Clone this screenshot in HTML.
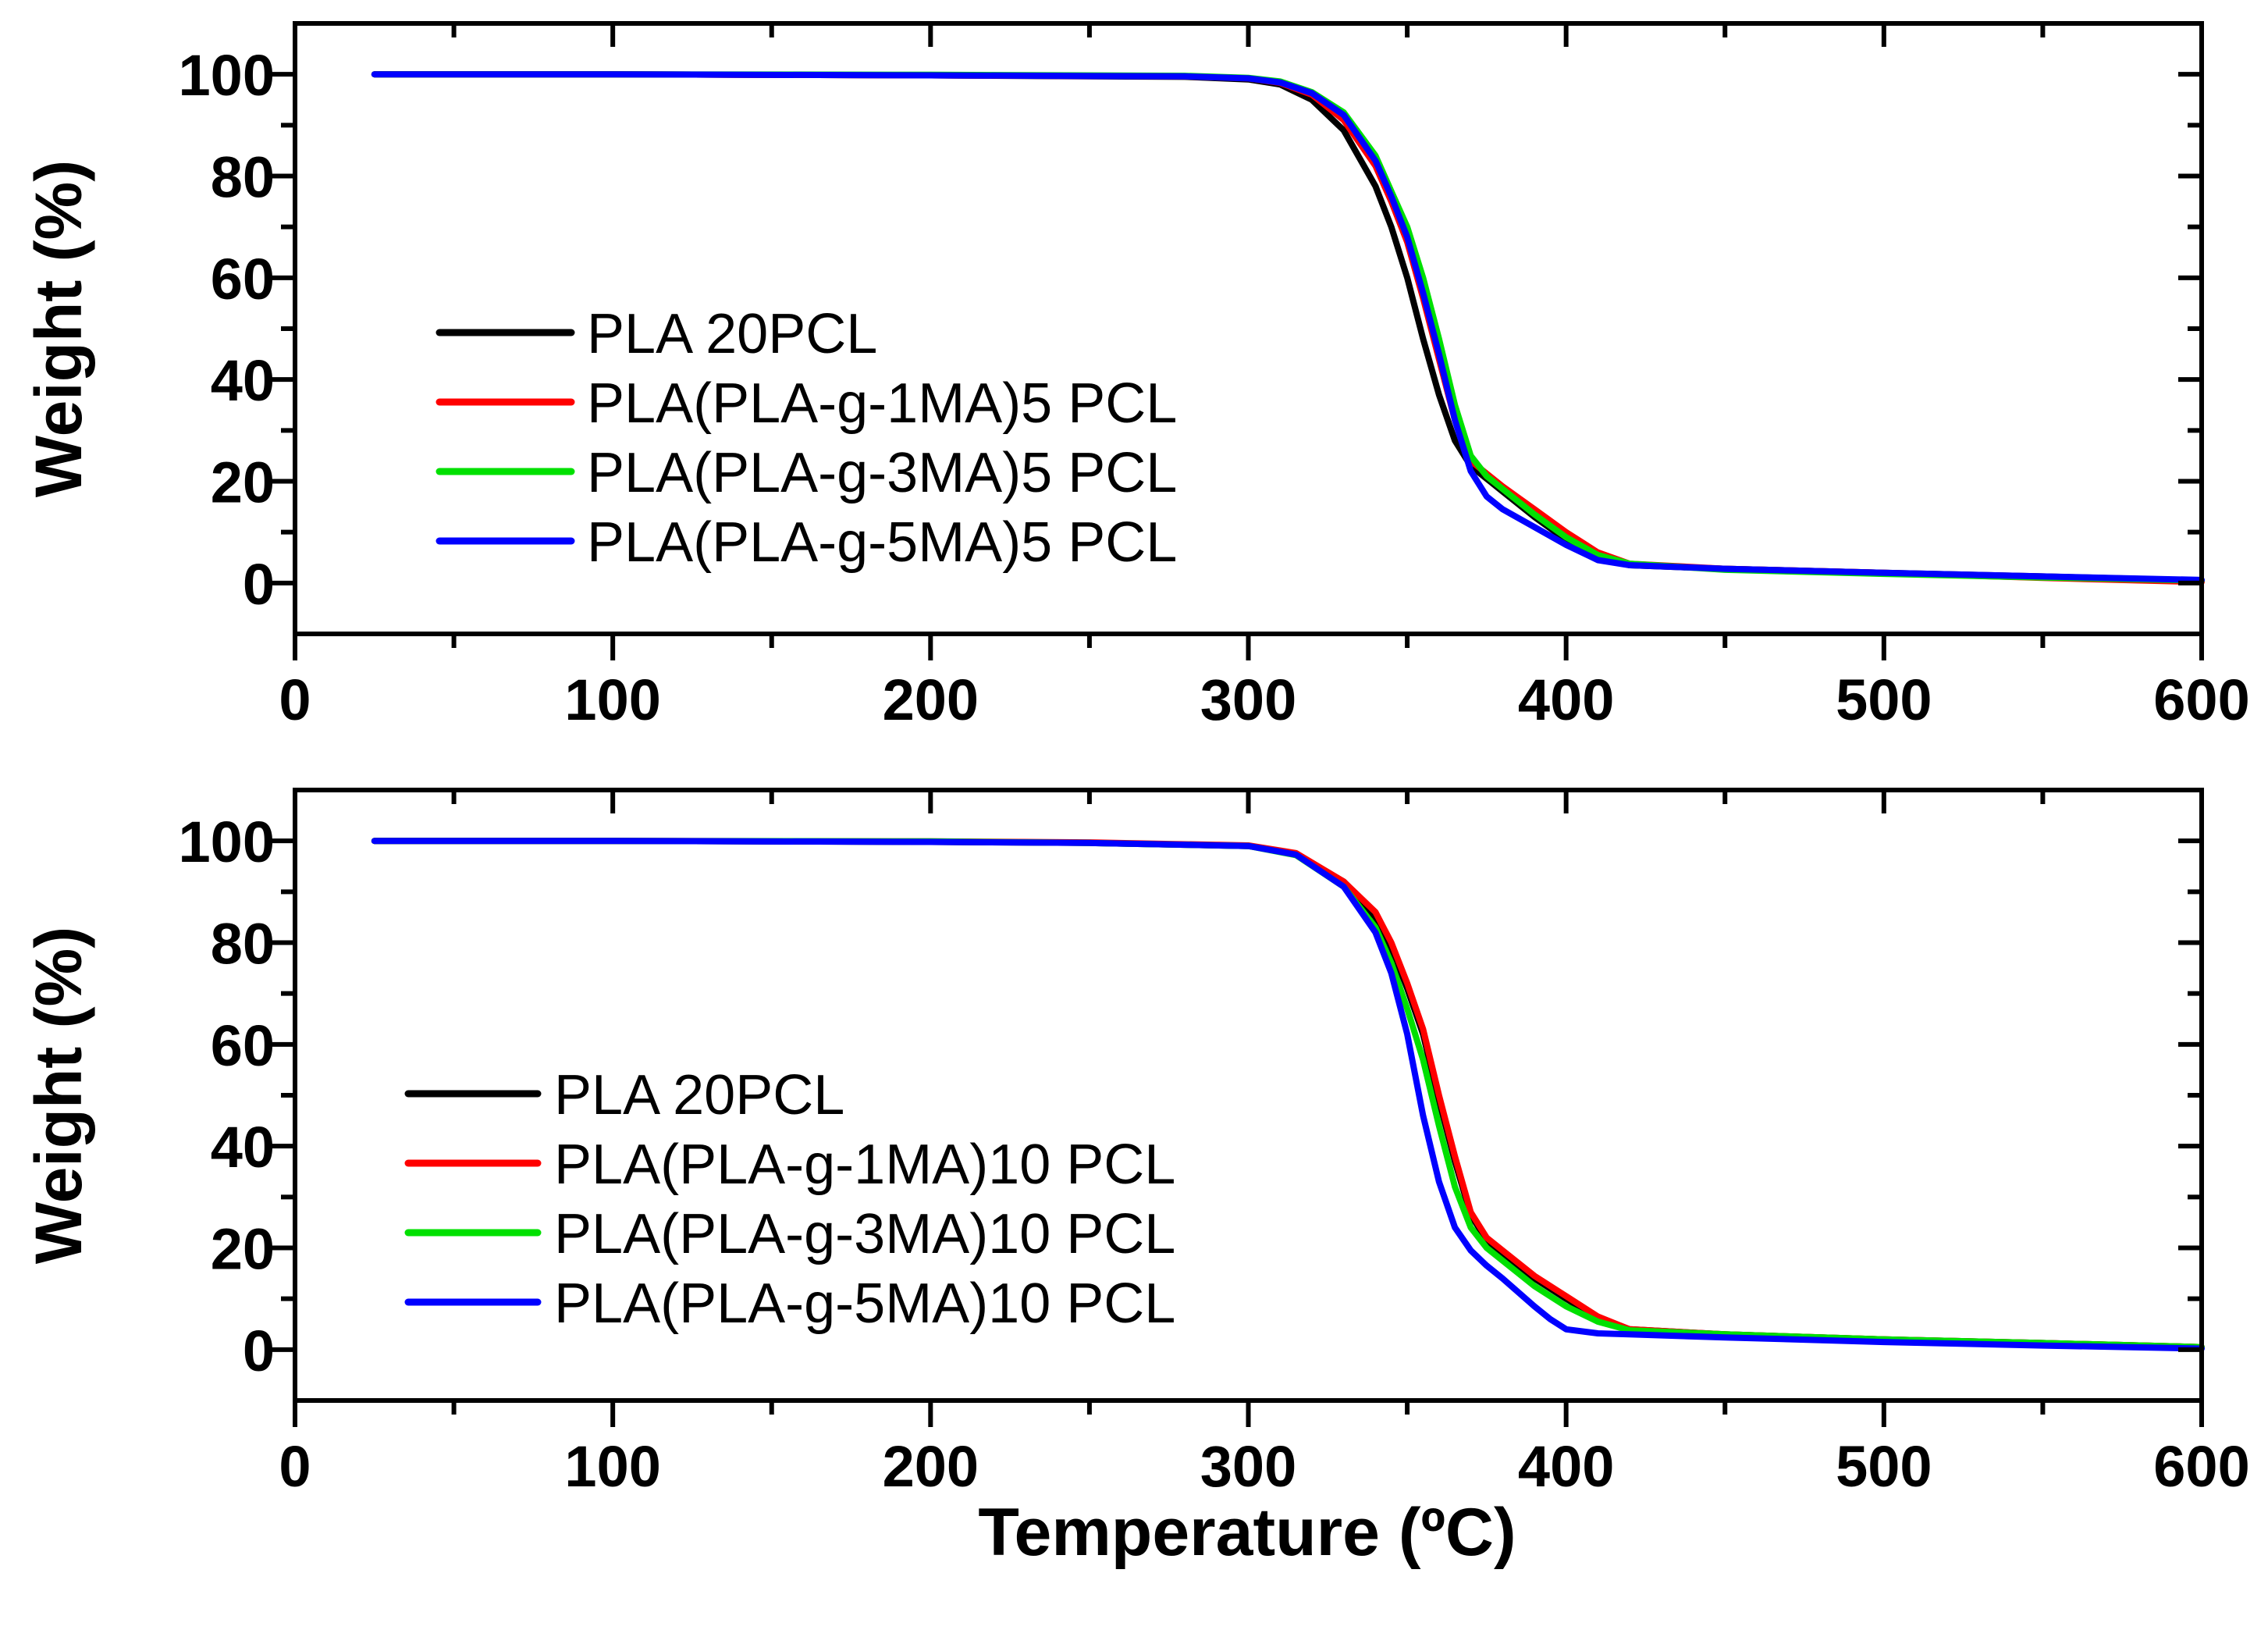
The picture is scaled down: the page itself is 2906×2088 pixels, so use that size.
<!DOCTYPE html>
<html><head><meta charset="utf-8"><style>
html,body{margin:0;padding:0;background:#fff;}
svg{display:block;font-family:"Liberation Sans",Arial,sans-serif;}
</style></head><body>
<svg id="chart" width="2906" height="2088" viewBox="0 0 2906 2088" xmlns="http://www.w3.org/2000/svg"></svg>
<script>
const xTicks = [0,100,200,300,400,500,600];
const yTicks = [0,20,40,60,80,100];
const colors = ['#000000','#ff0000','#00e000','#0000ff'];
const topNames = ['PLA 20PCL','PLA(PLA-g-1MA)5 PCL','PLA(PLA-g-3MA)5 PCL','PLA(PLA-g-5MA)5 PCL'];
const botNames = ['PLA 20PCL','PLA(PLA-g-1MA)10 PCL','PLA(PLA-g-3MA)10 PCL','PLA(PLA-g-5MA)10 PCL'];
const topT = [25,100,200,280,300,310,320,330,340,345,350,355,360,365,370,375,380,390,400,410,420,450,500,550,600];
const topBlack = [100,100,99.8,99.5,99,98,95,89,78,70,60,48,37,28,23,20.5,18,13,8.5,5,3.5,2.8,2,1.3,0.5];
const topRed   = [100,100,99.8,99.6,99.2,98.3,96,91,82,75,67,56,44,32,24,21.5,19,14.5,10,6,3.8,2.8,2,1,0.2];
const topGreen = [100,100,99.9,99.7,99.3,98.6,96.5,92.5,84,77,70,60,48,35,25,21,18.5,13.5,9,5.5,3.8,2.6,1.8,1.1,0.5];
const topBlue  = [100,100,99.8,99.6,99.2,98.4,96.3,92,83,76,68,57,45,32,22,17,14.5,11,7.5,4.5,3.5,2.8,2,1.3,0.6];
const botT = [25,100,200,250,300,315,330,340,345,350,355,360,365,370,375,380,390,395,400,410,420,450,500,550,600];
const botBlack = [100,100,99.8,99.6,99,97.5,92,85,79,71,62,49,37,26.5,21.5,19,14,12,10,6.2,4,3,2,1.3,0.5];
const botRed   = [100,100,99.9,99.7,99.1,97.6,92,86,80,72,63,50,38,27,22,19.5,14.5,12.5,10.5,6.5,4,3,2,1.3,0.5];
const botGreen = [100,100,99.9,99.6,99,97.2,91,83,76,67,57,44,32,24,20,17.5,12.5,10.5,8.5,5.5,3.8,3,2,1.3,0.5];
const botBlue  = [100,100,99.8,99.6,99,97.3,91,82,74,62,46,33,24,19.5,16.5,14,8.5,6,4,3.2,3,2.4,1.5,0.8,0.2];

const NS='http://www.w3.org/2000/svg';
const svg=document.getElementById('chart');
function mk(tag,attrs,parent){const e=document.createElementNS(NS,tag);for(const k in attrs)e.setAttribute(k,attrs[k]);(parent||svg).appendChild(e);return e;}

function panel(name, top, bottom, T, series, names, leg){
  const L=378,R=2821;
  const g=mk('g',{});
  
  
  const xs=v=>L+(v/600)*(R-L);
  const ys=v=>bottom-((v+10)/120)*(bottom-top);
  series.forEach((s,i)=>{
    const d=s.map((w,j)=>(j?'L':'M')+xs(T[j]).toFixed(1)+' '+ys(w).toFixed(1)).join(' ');
    const p=mk('path',{d:d,fill:'none',stroke:colors[i],'stroke-width':8,'stroke-linejoin':'round','stroke-linecap':'round'},g);
    
    
  });
  const fr=mk('rect',{x:L,y:top,width:R-L,height:bottom-top,fill:'none',stroke:'#000','stroke-width':6},g);
  
  
  for(let v=0;v<=600;v+=50){
    const major=v%100===0;const x=xs(v);
    mk('line',{x1:x,x2:x,y1:bottom,y2:bottom+(major?34:18),stroke:'#000','stroke-width':6},g);
    mk('line',{x1:x,x2:x,y1:top,y2:top+(major?30:18),stroke:'#000','stroke-width':6},g);
  }
  xTicks.forEach(v=>{
    const t=mk('text',{x:xs(v),y:bottom+110,'text-anchor':'middle','font-size':74,'font-weight':'bold'},g);
    t.textContent=v;
    
    
  });
  for(let v=-10;v<=110;v+=10){
    if(v===-10||v===110)continue;
    const major=v%20===0;const y=ys(v);
    mk('line',{x1:L,x2:L-(major?34:18),y1:y,y2:y,stroke:'#000','stroke-width':6},g);
    mk('line',{x1:R,x2:R-(major?30:18),y1:y,y2:y,stroke:'#000','stroke-width':6},g);
  }
  yTicks.forEach(v=>{
    const t=mk('text',{x:L-26,y:ys(v)+27,'text-anchor':'end','font-size':74,'font-weight':'bold'},g);
    t.textContent=v;
    
    
  });
  const yt=mk('text',{x:0,y:0,transform:`translate(104 ${(top+bottom)/2}) rotate(-90)`,'text-anchor':'middle','font-size':84,'font-weight':'bold'},g);
  yt.textContent='Weight (%)';
  
  
  names.forEach((n,i)=>{
    const y=leg.y+i*89;
    const le=mk('g',{},g);
    
    
    mk('line',{x1:leg.x1,x2:leg.x2,y1:y,y2:y,stroke:colors[i],'stroke-width':9,'stroke-linecap':'round'},le);
    const t=mk('text',{x:leg.tx,y:y+26,'font-size':72},le);
    t.textContent=n;
  });
}
panel('top-panel',30,812,topT,[topBlack,topRed,topGreen,topBlue],topNames,{x1:563,x2:732,tx:752,y:426});
panel('bottom-panel',1012,1794,botT,[botBlack,botRed,botGreen,botBlue],botNames,{x1:523,x2:689,tx:710,y:1401});
const xt=mk('text',{x:1598,y:1992,'text-anchor':'middle','font-size':86,'font-weight':'bold'});
xt.textContent='Temperature (ºC)';


</script>
</body></html>
